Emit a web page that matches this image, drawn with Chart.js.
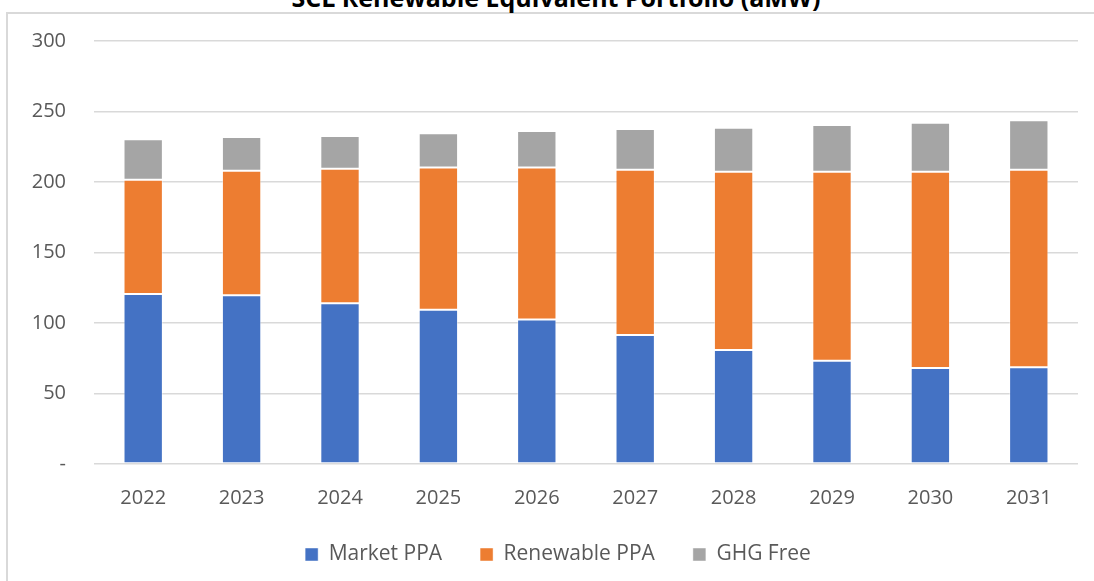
<!DOCTYPE html>
<html>
<head>
<meta charset="utf-8">
<script src="https://cdn.jsdelivr.net/npm/chart.js@4"></script>
<style>
    html, body { margin: 0; padding: 0; background: #fff; overflow: hidden; }
    body { width: 1094px; height: 581px; position: relative; }
    .frame {
        position: absolute; left: 6px; top: 12px; width: 1200px; height: 700px;
        border-left: 2px solid #d9d9d9; border-top: 2px solid #d9d9d9;
    }
    .chart-title {
        position: absolute; left: 6px; width: 1100px; top: -15px;
        text-align: center; font: bold 25px "Open Sans", sans-serif; line-height: 25px;
        color: #000; white-space: nowrap;
    }
    .chart-box { position: absolute; left: 0; top: 0; width: 1094px; height: 575px; }
</style>
</head>
<body>
<div class="frame"></div>
<div class="chart-title">SCL Renewable Equivalent Portfolio (aMW)</div>
<div class="chart-box"><canvas id="portfolioChart"></canvas></div>
<script>
const years = ['2022', '2023', '2024', '2025', '2026', '2027', '2028', '2029', '2030', '2031'];
const marketPPA = [120.6, 119.6, 114.0, 109.4, 102.4, 91.5, 80.9, 73.3, 68.1, 68.6];
const renewablePPA = [81.0, 88.4, 95.4, 100.8, 107.8, 117.2, 126.4, 134.0, 139.2, 140.1];
const ghgFree = [28.7, 23.9, 23.2, 24.3, 26.0, 28.9, 31.2, 33.1, 34.8, 35.1];
const yTicks = [0, 50, 100, 150, 200, 250, 300];

const textColor = '#595959';
const gridColor = '#d9d9d9';
const fontFamily = '"Open Sans", sans-serif';

// nudge the legend row a bit right, like the original
const legendShift = {
    id: 'legendShift',
    afterLayout(chart) {
        if (chart.legend) {
            chart.legend.left += 19;
            chart.legend.right += 19;
        }
    }
};

const ctx = document.getElementById('portfolioChart');
new Chart(ctx, {
    type: 'bar',
    data: {
        labels: years,
        datasets: [
            { label: 'Market PPA', data: marketPPA, backgroundColor: '#4472c4' },
            { label: 'Renewable PPA', data: renewablePPA, backgroundColor: '#ed7d31' },
            { label: 'GHG Free', data: ghgFree, backgroundColor: '#a5a5a5' }
        ]
    },
    options: {
        responsive: true,
        maintainAspectRatio: false,
        animation: false,
        datasets: {
            bar: {
                categoryPercentage: 1,
                barPercentage: 0.4,
                borderWidth: 1,
                borderColor: 'rgba(255,255,255,0.45)',
                borderSkipped: false
            }
        },
        layout: {
            padding: { top: 41, right: 16, left: 0, bottom: 0 }
        },
        plugins: {
            title: { display: false },
            tooltip: { enabled: false },
            legend: {
                position: 'bottom',
                labels: {
                    boxWidth: 13,
                    boxHeight: 13,
                    padding: 38,
                    color: textColor,
                    font: { family: fontFamily, size: 21 }
                }
            }
        },
        scales: {
            x: {
                stacked: true,
                grid: { display: false },
                border: { display: false },
                ticks: {
                    color: textColor,
                    padding: 14,
                    font: { family: fontFamily, size: 20 }
                },
                afterFit: (scale) => { scale.height = 42; }
            },
            y: {
                stacked: true,
                min: yTicks[0],
                max: yTicks[yTicks.length - 1],
                afterBuildTicks: (scale) => {
                    scale.ticks = yTicks.map((v) => ({ value: v }));
                },
                grid: { color: gridColor, lineWidth: 1.5, drawTicks: false },
                border: { display: false },
                ticks: {
                    color: textColor,
                    padding: 28,
                    font: { family: fontFamily, size: 20 },
                    callback: function (value) {
                        return value === 0 ? '-' : value;
                    }
                },
                afterFit: (scale) => { scale.width = 94; }
            }
        }
    },
    plugins: [legendShift]
});
</script>
</body>
</html>
